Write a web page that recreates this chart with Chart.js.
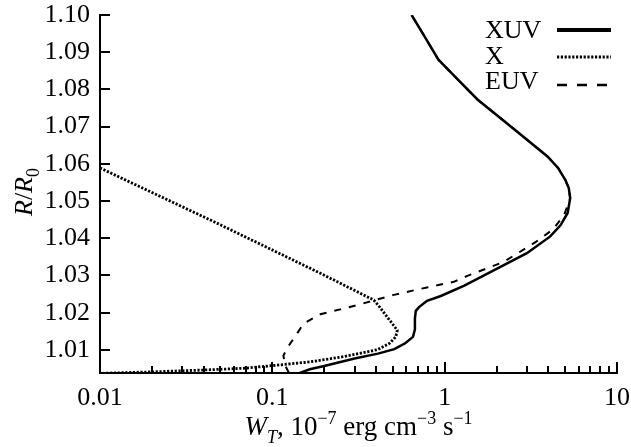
<!DOCTYPE html>
<html><head><meta charset="utf-8">
<script src="https://cdn.jsdelivr.net/npm/chart.js@4"></script>
<style>html,body{margin:0;padding:0;background:#fff}#wrap{width:631px;height:447px}</style>
</head><body><div id="wrap"><canvas id="c" width="631" height="447"></canvas></div>
<script>
// ---- data ----
const xTickValues = [0.01, 0.1, 1, 10];
const xTickLabels = ['0.01', '0.1', '1', '10'];
const xMinorTicks = [0.02,0.03,0.04,0.05,0.06,0.07,0.08,0.09,0.2,0.3,0.4,0.5,0.6,0.7,0.8,0.9,2,3,4,5,6,7,8,9];
const yTickValues = [1.01,1.02,1.03,1.04,1.05,1.06,1.07,1.08,1.09,1.10];
const yTickLabels = ['1.01','1.02','1.03','1.04','1.05','1.06','1.07','1.08','1.09','1.10'];
const seriesNames = ['XUV', 'X', 'EUV'];

const xuvW = [0.142,0.165,0.20,0.30,0.41,0.51,0.59,0.655,0.672,0.672,0.68,0.71,0.79,0.95,1.3,2.12,3.0,4.1,4.7,5.17,5.35,5.25,5.0,4.55,3.95,2.47,1.55,1.19,0.92,0.77,0.643];
const xuvR = [1.0037,1.0048,1.0057,1.0077,1.0090,1.0102,1.0118,1.0135,1.0155,1.0185,1.0205,1.0215,1.0232,1.0245,1.0273,1.0324,1.0360,1.0405,1.0435,1.0468,1.0508,1.0535,1.0558,1.0589,1.0620,1.0697,1.0773,1.0827,1.0880,1.0940,1.1000];

const xW = [0.01,0.0456,0.19,0.388,0.42,0.47,0.531,0.52,0.48,0.41,0.26,0.166,0.106,0.07,0.04,0.02,0.01];
const xR = [1.0589,1.0445,1.0306,1.0234,1.0215,1.0185,1.0153,1.0135,1.0118,1.0101,1.0082,1.0068,1.0059,1.0051,1.0046,1.0041,1.0037];

const euvW = [0.125,0.118,0.116,0.124,0.135,0.152,0.19,0.248,0.325,0.507,0.79,1.13,1.355,2.21,3.4,4.23,4.94,5.35,5.25,5.0,4.55,3.95,2.47,1.55,1.19,0.92,0.77,0.643];
const euvR = [1.0038,1.0060,1.0085,1.0110,1.0135,1.0171,1.0196,1.0209,1.0223,1.0248,1.0268,1.0283,1.0299,1.0337,1.0391,1.0423,1.0463,1.0508,1.0535,1.0558,1.0589,1.0620,1.0697,1.0773,1.0827,1.0880,1.0940,1.1000];

// ---- styles ----
const FONT = 'Liberation Serif';
const FS = 26;
const styles = [
  {width: 2.5, dash: [], legendWidth: 4},
  {width: 2.8, dash: [2.2, 1.6], legendWidth: 3},
  {width: 2, dash: [7, 8], legendWidth: 2.5, legendDash: [10, 10]}
];
const pts = (w, r) => w.map((v, i) => ({x: v, y: r[i]}));
const seriesData = [pts(xuvW, xuvR), pts(xW, xR), pts(euvW, euvR)];

function drawRich(ctx, segs, size, subSize) {
  let total = 0;
  const m = segs.map(s => {
    const sz = (s.sub || s.sup) ? subSize : size;
    const f = (s.it ? 'italic ' : '') + sz + 'px "' + FONT + '"';
    ctx.font = f;
    const w = ctx.measureText(s.t).width;
    total += w;
    return {f, w, s};
  });
  let x = -total / 2;
  for (const o of m) {
    ctx.font = o.f;
    const dy = o.s.sub ? size * 0.28 : (o.s.sup ? -size * 0.42 : 0);
    ctx.fillText(o.s.t, x, dy);
    x += o.w;
  }
}

const decor = {
  id: 'decor',
  afterDatasetsDraw(chart) {
    const ctx = chart.ctx;
    const xs = chart.scales.x, ys = chart.scales.y;
    const ca = chart.chartArea;
    ctx.save();
    ctx.strokeStyle = '#000';
    ctx.lineWidth = 2;
    ctx.setLineDash([]);
    ctx.beginPath();
    for (const v of xTickValues) {
      const p = Math.round(xs.getPixelForValue(v));
      ctx.moveTo(p, ca.bottom); ctx.lineTo(p, ca.bottom - 11);
    }
    for (const v of xMinorTicks) {
      const p = Math.round(xs.getPixelForValue(v));
      ctx.moveTo(p, ca.bottom); ctx.lineTo(p, ca.bottom - 7);
    }
    for (const v of yTickValues) {
      const p = Math.round(ys.getPixelForValue(v));
      ctx.moveTo(ca.left, p); ctx.lineTo(ca.left + 10, p);
    }
    ctx.stroke();

    // legend
    ctx.fillStyle = '#000';
    ctx.textAlign = 'left';
    ctx.textBaseline = 'alphabetic';
    ctx.font = FS + 'px "' + FONT + '"';
    const ly = [30, 57, 85];
    const by = [38, 64, 89];
    seriesNames.forEach((n, i) => {
      ctx.fillText(n, 485, by[i]);
      ctx.beginPath();
      ctx.lineWidth = styles[i].legendWidth;
      ctx.setLineDash(styles[i].legendDash || styles[i].dash);
      ctx.moveTo(557, ly[i]); ctx.lineTo(611, ly[i]);
      ctx.stroke();
    });
    ctx.setLineDash([]);

    // axis titles
    ctx.textAlign = 'left';
    ctx.save();
    ctx.translate((ca.left + ca.right) / 2, 435);
    drawRich(ctx, [
      {t: 'W', it: true}, {t: 'T', it: true, sub: true}, {t: ', 10'}, {t: '\u22127', sup: true},
      {t: ' erg cm'}, {t: '\u22123', sup: true}, {t: ' s'}, {t: '\u22121', sup: true}
    ], 27, 18);
    ctx.restore();
    ctx.save();
    ctx.translate(32, (ca.top + ca.bottom) / 2 - 2);
    ctx.rotate(-Math.PI / 2);
    drawRich(ctx, [{t: 'R', it: true}, {t: '/'}, {t: 'R', it: true}, {t: '0', sub: true}], FS, 18);
    ctx.restore();
    ctx.restore();
  }
};

new Chart(document.getElementById('c'), {
  type: 'scatter',
  data: {
    datasets: seriesNames.map((n, i) => ({
      label: n,
      data: seriesData[i],
      showLine: true,
      pointRadius: 0,
      borderColor: '#000',
      backgroundColor: '#000',
      borderWidth: styles[i].width,
      borderDash: styles[i].dash,
      borderCapStyle: 'butt',
      fill: false,
      tension: 0
    }))
  },
  options: {
    responsive: false,
    animation: false,
    devicePixelRatio: 1,
    layout: {padding: {top: 15, right: 14, left: 0, bottom: 0}},
    plugins: {legend: {display: false}, tooltip: {enabled: false}},
    scales: {
      x: {
        type: 'logarithmic',
        position: 'bottom',
        min: 0.01, max: 10,
        afterBuildTicks: s => { s.ticks = xTickValues.map(v => ({value: v})); },
        afterFit: s => { s.height = 74; s.paddingLeft = 0; s.paddingRight = 0; },
        grid: {display: false, drawTicks: false},
        border: {display: true, color: '#000', width: 2},
        ticks: {
          autoSkip: false, maxRotation: 0, padding: 10, color: '#000',
          font: {family: FONT, size: FS},
          callback: (v, i) => xTickLabels[i]
        }
      },
      y: {
        type: 'linear',
        position: 'left',
        min: 1.0038, max: 1.10,
        afterBuildTicks: s => { s.ticks = yTickValues.map(v => ({value: v})); },
        afterFit: s => { s.width = 100; s.paddingTop = 0; s.paddingBottom = 0; },
        grid: {display: false, drawTicks: false},
        border: {display: true, color: '#000', width: 2},
        ticks: {
          autoSkip: false, padding: 10, color: '#000',
          font: {family: FONT, size: FS},
          callback: (v, i) => yTickLabels[i]
        }
      }
    }
  },
  plugins: [decor]
});
</script>
</body></html>
